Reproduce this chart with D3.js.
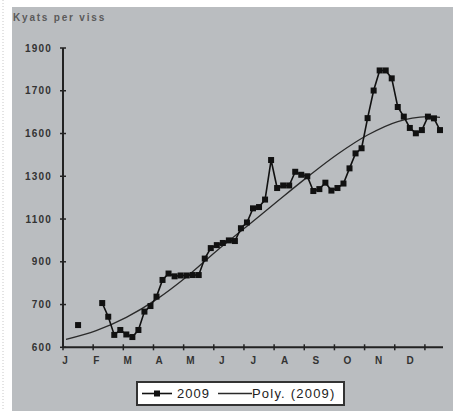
<!DOCTYPE html>
<html>
<head>
<meta charset="utf-8">
<script src="https://cdn.jsdelivr.net/npm/d3@7"></script>
<style>
  html, body { margin: 0; padding: 0; background: #fff; }
  svg { display: block; font-family: "Liberation Sans", Arial, sans-serif; }
</style>
</head>
<body>
<div class="chart"></div>
<script>
// weekly price points, 63 categories (null = no reading)
const prices2009 = [null, null, 604, null, null, null, 707, 643, 558, 581, 560, 548, 581, 667, 693, 737,
  815, 845, 832, 836, 836, 838, 838, 915, 964, 978, 988, 1000, 997, 1057, 1084, 1150, 1156, 1191,
  1376, 1245, 1257, 1257, 1321, 1307, 1300, 1231, 1240, 1270, 1233, 1245, 1266, 1337, 1407, 1431,
  1572, 1701, 1795, 1795, 1758, 1624, 1579, 1526, 1501, 1516, 1579, 1571, 1516];

// polynomial trend line
const trendIndex = [0, 5, 10, 15, 20, 25, 30, 35, 40, 45, 50, 55, 60, 62];
const trendValues = [537, 578, 640, 724, 830, 952, 1066, 1182, 1296, 1403, 1493, 1556, 1579, 1575];

const months = ['J', 'F', 'M', 'A', 'M', 'J', 'J', 'A', 'S', 'O', 'N', 'D'];
const yTicks = [500, 700, 900, 1100, 1300, 1500, 1700, 1900];
const yLabels = ['600', '700', '900', '1100', '1300', '1600', '1700', '1900'];

const width = 465;
const height = 411;

const svg = d3.select('.chart')
    .append('svg')
    .attr('width', width)
    .attr('height', height);

// scanned page edge
svg.append('line')
    .attr('x1', 3).attr('x2', 3)
    .attr('y1', 0).attr('y2', height)
    .attr('stroke', '#c8c8c8')
    .attr('stroke-dasharray', '1,2');

svg.append('rect')
    .attr('x', 12).attr('y', 7)
    .attr('width', 441).attr('height', height - 7)
    .attr('fill', '#babdc0');

svg.append('text')
    .attr('x', 13)
    .attr('y', 21)
    .attr('fill', '#5a5a5a')
    .style('font-size', '10px')
    .style('font-weight', 'bold')
    .style('letter-spacing', '1.8px')
    .text('Kyats per viss');

const x = d3.scaleLinear().domain([0, prices2009.length]).range([63, 443]);
const y = d3.scaleLinear().domain([500, 1900]).range([347.3, 48]);
const monthX = d3.scalePoint().domain(d3.range(months.length)).range([65, 410]);

// axes
svg.append('line')
    .attr('x1', x(0)).attr('x2', x(0))
    .attr('y1', y(1900)).attr('y2', y(500))
    .attr('stroke', '#222').attr('stroke-width', 2);
svg.append('line')
    .attr('x1', x(0)).attr('x2', x(prices2009.length))
    .attr('y1', y(500)).attr('y2', y(500))
    .attr('stroke', '#222').attr('stroke-width', 2);

yTicks.forEach((t, i) => {
  svg.append('line')
      .attr('x1', x(0) - 3).attr('x2', x(0) + 3)
      .attr('y1', y(t)).attr('y2', y(t))
      .attr('stroke', '#222').attr('stroke-width', 1.5);
  svg.append('text')
      .attr('x', 52)
      .attr('y', y(t))
      .attr('dy', '0.35em')
      .attr('text-anchor', 'end')
      .attr('fill', '#333')
      .style('font-size', '10px')
      .style('font-weight', 'bold')
      .style('letter-spacing', '1.2px')
      .text(yLabels[i]);
});

d3.range(0, prices2009.length, 5).forEach(t => {
  svg.append('line')
      .attr('x1', x(t)).attr('x2', x(t))
      .attr('y1', y(500) - 3).attr('y2', y(500) + 3)
      .attr('stroke', '#222').attr('stroke-width', 1.5);
});

months.forEach((m, i) => {
  svg.append('text')
      .attr('x', monthX(i))
      .attr('y', 364)
      .attr('text-anchor', 'middle')
      .attr('fill', '#333')
      .style('font-size', '10px')
      .style('font-weight', 'bold')
      .text(m);
});

// trend line
const trendLine = d3.line()
    .x((d, i) => x(trendIndex[i] + 0.5))
    .y(d => y(d))
    .curve(d3.curveCatmullRom);

svg.append('path')
    .datum(trendValues)
    .attr('d', trendLine)
    .attr('fill', 'none')
    .attr('stroke', '#2a2a2a')
    .attr('stroke-width', 1.3);

// price line
const priceLine = d3.line()
    .defined(d => d != null)
    .x((d, i) => x(i + 0.5))
    .y(d => y(d));

svg.append('path')
    .datum(prices2009)
    .attr('d', priceLine)
    .attr('fill', 'none')
    .attr('stroke', '#111')
    .attr('stroke-width', 1.6);

const ms = 6;
svg.selectAll('.marker')
    .data(prices2009.map((v, i) => [i, v]).filter(d => d[1] != null))
    .join('rect')
    .attr('class', 'marker')
    .attr('x', d => x(d[0] + 0.5) - ms / 2)
    .attr('y', d => y(d[1]) - ms / 2)
    .attr('width', ms)
    .attr('height', ms)
    .attr('fill', '#111');

// legend
const legend = svg.append('g');
legend.append('rect')
    .attr('x', 137).attr('y', 382)
    .attr('width', 207).attr('height', 23)
    .attr('fill', '#fff')
    .attr('stroke', '#333')
    .attr('stroke-width', 2);

legend.append('line')
    .attr('x1', 142).attr('x2', 172)
    .attr('y1', 393.5).attr('y2', 393.5)
    .attr('stroke', '#111').attr('stroke-width', 1.6);
legend.append('rect')
    .attr('x', 157 - ms / 2).attr('y', 393.5 - ms / 2)
    .attr('width', ms).attr('height', ms)
    .attr('fill', '#111');
legend.append('text')
    .attr('x', 177)
    .attr('y', 398)
    .attr('fill', '#222')
    .style('font-size', '13px')
    .style('letter-spacing', '1px')
    .text('2009');

legend.append('line')
    .attr('x1', 218).attr('x2', 252)
    .attr('y1', 393.5).attr('y2', 393.5)
    .attr('stroke', '#2a2a2a').attr('stroke-width', 1.3);
legend.append('text')
    .attr('x', 252)
    .attr('y', 398)
    .attr('fill', '#222')
    .style('font-size', '13px')
    .style('letter-spacing', '1.2px')
    .text('Poly. (2009)');
</script>
</body>
</html>
